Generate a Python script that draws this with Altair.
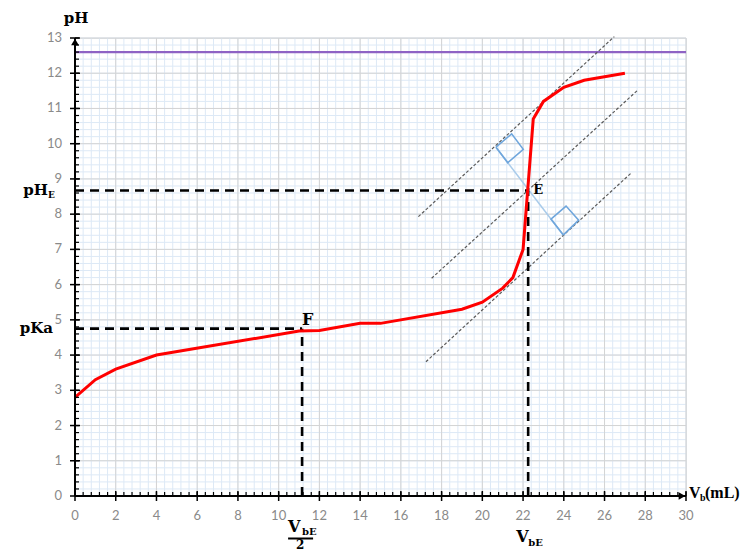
import altair as alt
import pandas as pd

# ---------------- data ----------------
vb = [0, 1, 2, 4, 11, 12, 14, 15, 19, 20, 21, 21.5, 22, 22.5, 23, 24, 25, 27]
ph = [2.8, 3.3, 3.6, 4.0, 4.68, 4.7, 4.9, 4.9, 5.3, 5.5, 5.9, 6.2, 7.0, 10.7, 11.2, 11.6, 11.8, 12.0]

x_ticks = [0, 2, 4, 6, 8, 10, 12, 14, 16, 18, 20, 22, 24, 26, 28, 30]
y_ticks = [0, 1, 2, 3, 4, 5, 6, 7, 8, 9, 10, 11, 12, 13]
x_minor = [round(i * 0.4, 1) for i in range(76)]
y_minor = [round(i * 0.2, 1) for i in range(66)]

VBE = 22.25
PHE = 8.67
HALF = 11.15
PKA = 4.75
PH_LIMIT = 12.6

# parallel tangents (endpoints)
tan_id = ["t1", "t1", "t2", "t2", "t3", "t3"]
tan_x = [16.86, 26.48, 17.51, 27.63, 17.23, 27.33]
tan_y = [7.93, 13.04, 6.18, 11.52, 3.81, 9.18]

# perpendicular segment
perp_x = [20.67, 23.98]
perp_y = [9.90, 7.40]

# right-angle squares
sq_id = ["a"] * 5 + ["b"] * 5
sq_ord = [0, 1, 2, 3, 4] * 2
sq_x = [20.67, 21.44, 22.01, 21.25, 20.67, 23.98, 24.73, 24.11, 23.37, 23.98]
sq_y = [9.90, 10.28, 9.84, 9.46, 9.90, 7.41, 7.83, 8.23, 7.86, 7.41]

W, H = 611, 458
SERIF = "DejaVu Serif"
SERIF2 = "Liberation Serif"
TICKFONT = "Lato"

xs = alt.Scale(domain=[0, 30], nice=False, zero=False)
ys = alt.Scale(domain=[0, 13], nice=False, zero=False)

one = pd.DataFrame({"a": [0]})


def vrules(vals, color, y0, y1, width=1):
    return alt.Chart(pd.DataFrame({"x": vals})).mark_rule(color=color, strokeWidth=width).encode(
        x=alt.X("x:Q", scale=xs, axis=None), y=alt.value(y0), y2=alt.value(y1))


def hrules(vals, color, x0, x1, width=1):
    return alt.Chart(pd.DataFrame({"y": vals})).mark_rule(color=color, strokeWidth=width).encode(
        y=alt.Y("y:Q", scale=ys, axis=None), x=alt.value(x0), x2=alt.value(x1))


grid = [
    vrules(x_minor, "#dde9f6", 0, H),
    hrules(y_minor, "#dde9f6", 0, W),
    vrules(x_ticks, "#d4d4d4", 0, H),
    hrules(y_ticks, "#d4d4d4", 0, W),
]

axes_lines = [
    vrules([0], "black", 0, H, 2),
    hrules([0], "black", 0, W, 2),
    vrules(x_minor, "black", H - 4, H, 1.2),
    vrules(x_ticks, "black", H - 5, H + 5, 1.5),
    hrules(y_minor, "black", 0, 4, 1.2),
    hrules(y_ticks, "black", -5, 5, 1.5),
]

tick_labels = [
    alt.Chart(pd.DataFrame({"v": x_ticks})).mark_text(
        font=TICKFONT, fontSize=13, color="#8a8a8a", align="center", baseline="alphabetic").encode(
        x=alt.X("v:Q", scale=xs, axis=None), y=alt.value(H + 24), text="v:Q"),
    alt.Chart(pd.DataFrame({"v": y_ticks})).mark_text(
        font=TICKFONT, fontSize=13, color="#8a8a8a", align="right", baseline="middle").encode(
        y=alt.Y("v:Q", scale=ys, axis=None), x=alt.value(-13), text="v:Q"),
]

purple = alt.Chart(pd.DataFrame({"y": [PH_LIMIT], "x": [0], "x2": [30]})).mark_rule(
    color="#8e63c4", strokeWidth=2.3).encode(
    x=alt.X("x:Q", scale=xs, axis=None), x2="x2:Q", y=alt.Y("y:Q", scale=ys, axis=None))

tangents = alt.Chart(pd.DataFrame({"id": tan_id, "x": tan_x, "y": tan_y})).mark_line(
    color="#5a5a5a", strokeWidth=1.2, strokeDash=[3, 2]).encode(
    x=alt.X("x:Q", scale=xs, axis=None), y=alt.Y("y:Q", scale=ys, axis=None), detail="id:N")

perp = alt.Chart(pd.DataFrame({"x": perp_x, "y": perp_y})).mark_line(
    color="#a9cbea", strokeWidth=1.5).encode(
    x=alt.X("x:Q", scale=xs, axis=None), y=alt.Y("y:Q", scale=ys, axis=None))

squares = alt.Chart(pd.DataFrame({"id": sq_id, "o": sq_ord, "x": sq_x, "y": sq_y})).mark_line(
    color="#6fa6dc", strokeWidth=1.6).encode(
    x=alt.X("x:Q", scale=xs, axis=None), y=alt.Y("y:Q", scale=ys, axis=None),
    detail="id:N", order="o:Q")

dash_df = pd.DataFrame({
    "x": [0, VBE, 0, HALF], "x2": [VBE, VBE, HALF, HALF],
    "y": [PHE, 0, PKA, 0], "y2": [PHE, PHE, PKA, PKA]})
dashed = alt.Chart(dash_df).mark_rule(color="black", strokeWidth=2.6, strokeDash=[9, 6]).encode(
    x=alt.X("x:Q", scale=xs, axis=None), x2="x2:Q",
    y=alt.Y("y:Q", scale=ys, axis=None), y2="y2:Q")

curve = alt.Chart(pd.DataFrame({"vb": vb, "ph": ph})).mark_line(
    color="#ff0000", strokeWidth=3).encode(
    x=alt.X("vb:Q", scale=xs, axis=None),
    y=alt.Y("ph:Q", scale=ys, axis=None))

arrows = [
    alt.Chart(one).mark_point(shape="triangle-up", filled=True, color="black", size=60,
                              opacity=1, yOffset=4).encode(
        x=alt.datum(0, scale=xs), y=alt.datum(13, scale=ys)),
    alt.Chart(one).mark_point(shape="triangle-right", filled=True, color="black", size=60,
                              opacity=1, xOffset=-4).encode(
        x=alt.datum(30, scale=xs), y=alt.datum(0, scale=ys)),
]


def txt(text, x, y, size, align="left", dx=0, dy=0, baseline="alphabetic", font=SERIF):
    return alt.Chart(one).mark_text(
        text=text, font=font, fontWeight="bold", fontSize=size, color="black",
        align=align, baseline=baseline, dx=dx, dy=dy).encode(x=x, y=y)


labels = [
    txt("pH", alt.value(1), alt.value(-15), 15, align="center"),
    txt("pH", alt.value(-27), alt.datum(PHE), 15, align="right", dy=4.5),
    txt("E", alt.value(-27), alt.datum(PHE), 9, dy=7.5),
    txt("pKa", alt.value(-22), alt.datum(PKA), 15, align="right", dy=4.5),
    txt("E", alt.datum(VBE), alt.datum(PHE), 13, dx=5, dy=3.5),
    txt("F", alt.datum(HALF), alt.datum(PKA), 16, dx=0, dy=-4),
    txt("V", alt.value(614), alt.value(H + 2), 16, font=SERIF2),
    txt("b", alt.value(625), alt.value(H + 5), 10, font=SERIF2),
    txt("(mL)", alt.value(630), alt.value(H + 2), 16, font=SERIF2),
    txt("V", alt.datum(HALF), alt.value(H + 36), 16, dx=-14),
    txt("bE", alt.datum(HALF), alt.value(H + 39), 10, dx=0),
    txt("2", alt.datum(HALF), alt.value(H + 44), 12, align="center", dx=-2, baseline="top"),
    txt("V", alt.datum(VBE), alt.value(H + 46), 16, dx=-12),
    txt("bE", alt.datum(VBE), alt.value(H + 50), 10, dx=0),
]

frac_bar = alt.Chart(one).mark_rule(color="black", strokeWidth=2, xOffset=-14, x2Offset=11).encode(
    x=alt.datum(HALF, scale=xs), x2=alt.datum(HALF), y=alt.value(H + 42.5))

chart = alt.layer(
    *grid, purple, tangents, perp, squares, dashed, curve, *axes_lines, *tick_labels,
    *arrows, frac_bar, *labels
).properties(
    width=W, height=H,
    autosize=alt.AutoSizeParams(type="none"),
    padding={"left": 67, "top": 30, "right": 57, "bottom": 55},
).configure_view(stroke=None).configure(background="white")

chart.save("out.html", embed_options={"renderer": "svg", "actions": False})
